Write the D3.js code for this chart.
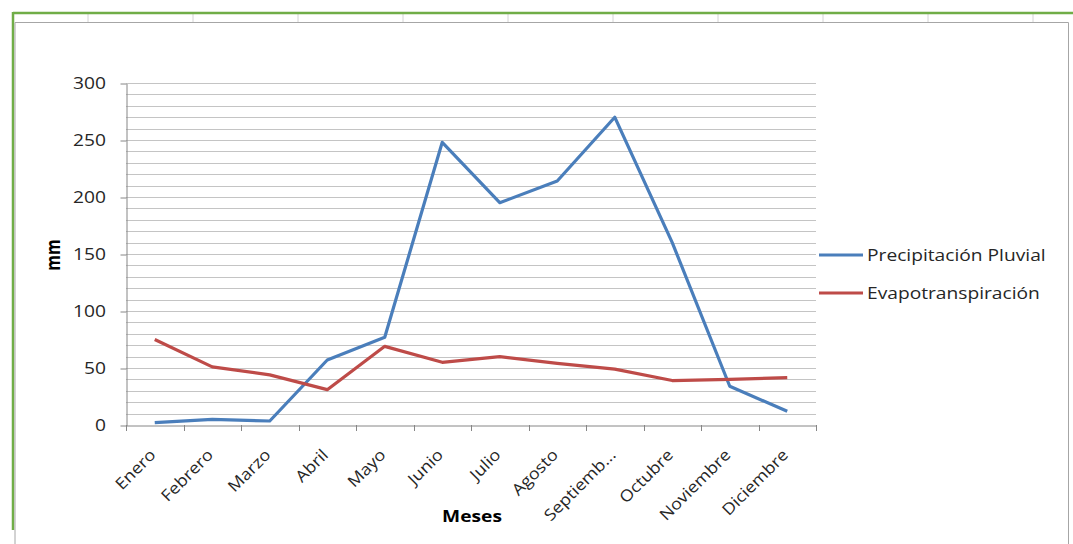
<!DOCTYPE html>
<html>
<head>
<meta charset="utf-8">
<script src="https://cdn.jsdelivr.net/npm/d3@7"></script>
<style>
  body { margin: 0; background: #fff; }
  text { font-family: "Open Sans", "Noto Sans", sans-serif; }
</style>
</head>
<body>
<div id="draw"></div>
<script>
// data
let months = ['Enero', 'Febrero', 'Marzo', 'Abril', 'Mayo', 'Junio', 'Julio', 'Agosto', 'Septiemb...', 'Octubre', 'Noviembre', 'Diciembre'];
let precipitacion = [2, 5, 3.5, 57, 77, 248, 195, 214, 270, 160, 34, 12];
let evapo = [75, 51, 44, 31, 69, 55, 60, 54, 49, 39, 40, 41.5];
let yTicks = [0, 50, 100, 150, 200, 250, 300];

// parameters
let width = 1073, height = 544;
let plot = { left: 126, right: 816, top: 83, bottom: 425 };
let blue = '#4a7ebb', red = '#be4b48';
let stretch = 'scale(1.2,1)'; // the text in the picture is a bit wide
let fontSize = '16px';

let svg = d3.select('#draw').append('svg').attr('width', width).attr('height', height);

// spreadsheet frame
let cells = [88, 193, 298, 403, 508, 613, 718, 823, 928, 1033];
svg.selectAll('.cell').data(cells).enter().append('line')
    .attr('x1', d => d).attr('x2', d => d).attr('y1', 13).attr('y2', 22)
    .style('stroke', '#d4d4d4');
svg.append('line').attr('x1', 13).attr('x2', width).attr('y1', 13).attr('y2', 13)
    .style('stroke', '#70ad47').style('stroke-width', 2.5);
svg.append('line').attr('x1', 13).attr('x2', 13).attr('y1', 12).attr('y2', 530)
    .style('stroke', '#70ad47').style('stroke-width', 2.5);
svg.append('path').attr('d', 'M15,' + height + 'V22.5H1068.5V' + height)
    .style('fill', 'none').style('stroke', '#a6a6a6').style('stroke-width', 1);

// scales
let x = d3.scaleBand().domain(months).range([plot.left, plot.right]);
let y = d3.scaleLinear().domain([0, 300]).range([plot.bottom, plot.top]);

// minor gridlines every 10
let g = svg.append('g');
g.selectAll('.grid').data(d3.range(10, 301, 10)).enter().append('line')
    .attr('x1', plot.left).attr('x2', plot.right)
    .attr('y1', d => Math.round(y(d)) + 0.5).attr('y2', d => Math.round(y(d)) + 0.5)
    .style('stroke', '#c4c4c4').style('stroke-width', 1.2);

// y axis
let yAxis = g.append('g').attr('transform', 'translate(' + (plot.left + 0.5) + ',0.5)')
    .call(d3.axisLeft(y).tickValues(yTicks).tickSize(6).tickFormat('').tickSizeOuter(0));
yAxis.select('.domain').style('stroke', '#868686');
yAxis.selectAll('line').style('stroke', '#868686');
g.selectAll('.ylabel').data(yTicks).enter().append('text')
    .attr('transform', d => 'translate(106,' + y(d) + ') ' + stretch)
    .attr('text-anchor', 'end').attr('dy', '0.35em')
    .style('font-size', fontSize).style('fill', '#262626')
    .text(d => d);

// x axis
let xAxis = g.append('g').attr('transform', 'translate(0,' + (plot.bottom + 0.5) + ')')
    .call(d3.axisBottom(x).tickSize(0).tickFormat(''));
xAxis.select('.domain').style('stroke', '#868686');
let bounds = months.map(m => x(m)).concat([plot.right]);
g.selectAll('.xtick').data(bounds).enter().append('line')
    .attr('x1', d => Math.round(d) + 0.5).attr('x2', d => Math.round(d) + 0.5)
    .attr('y1', plot.bottom).attr('y2', plot.bottom + 6)
    .style('stroke', '#868686');
g.selectAll('.xlabel').data(months).enter().append('text')
    .attr('transform', d => 'translate(' + (x(d) + x.bandwidth() / 2 - 2) + ',' + (plot.bottom + 27) + ') rotate(-45) scale(1.12,1)')
    .attr('text-anchor', 'end')
    .attr('dy', '0.35em')
    .style('font-size', fontSize).style('fill', '#262626')
    .text(d => d);

// axis titles
svg.append('text').attr('transform', 'translate(60,255) ' + stretch + ' rotate(-90)')
    .attr('text-anchor', 'middle').style('font-size', fontSize).style('font-weight', 'bold').style('fill', '#000')
    .text('mm');
svg.append('text').attr('transform', 'translate(472,522) ' + stretch)
    .attr('text-anchor', 'middle').style('font-size', fontSize).style('font-weight', 'bold').style('fill', '#000')
    .text('Meses');

// lines
let line = d3.line().x((d, i) => x(months[i]) + x.bandwidth() / 2).y(d => y(d));
let series = [
    { name: 'Precipitación Pluvial', values: precipitacion, color: blue },
    { name: 'Evapotranspiración', values: evapo, color: red }
];
g.selectAll('.series').data(series).enter().append('path')
    .attr('d', d => line(d.values))
    .style('fill', 'none').style('stroke', d => d.color).style('stroke-width', 3.2)
    .style('stroke-linejoin', 'round');

// legend
let legend = svg.selectAll('.legend').data(series).enter().append('g')
    .attr('transform', (d, i) => 'translate(819,' + (255 + i * 38) + ')');
legend.append('line').attr('x1', 0).attr('x2', 44).attr('y1', 0).attr('y2', 0)
    .style('stroke', d => d.color).style('stroke-width', 3.2);
legend.append('text').attr('transform', 'translate(48,0) ' + stretch).attr('dy', '0.35em')
    .style('font-size', fontSize).style('fill', '#262626')
    .text(d => d.name);
</script>
</body>
</html>
